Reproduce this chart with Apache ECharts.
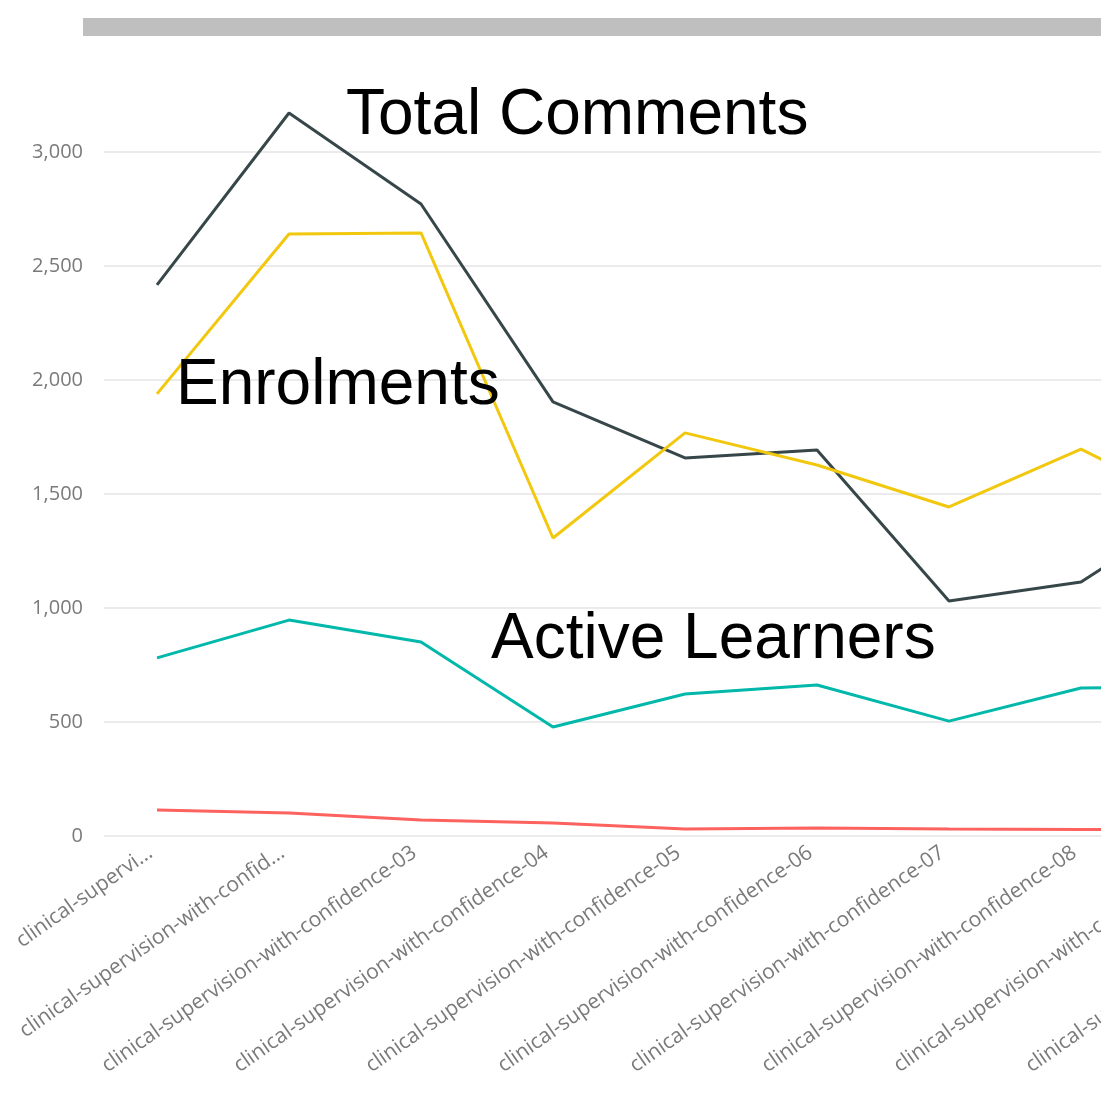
<!DOCTYPE html>
<html>
<head>
<meta charset="utf-8">
<script src="https://cdn.jsdelivr.net/npm/echarts@6/dist/echarts.min.js"></script>
<style>
  html, body { margin: 0; padding: 0; background: #fff; overflow: hidden; }
  #main { width: 1450px; height: 1093px; }
</style>
</head>
<body>
<div id="main"></div>
<script>
// categories as they show on the axis (power bi cut the first two)
var courseNames = [
  'clinical-supervi...',
  'clinical-supervision-with-confid...',
  'clinical-supervision-with-confidence-03',
  'clinical-supervision-with-confidence-04',
  'clinical-supervision-with-confidence-05',
  'clinical-supervision-with-confidence-06',
  'clinical-supervision-with-confidence-07',
  'clinical-supervision-with-confidence-08',
  'clinical-supervision-with-confidence-09',
  'clinical-supervision-with-confidence-10'
];
// values, last run is off screen
var totalComments = [2417, 3171, 2772, 1904, 1658, 1693, 1031, 1114, 1487, null];
var enrolments = [1939, 2640, 2645, 1307, 1768, 1627, 1443, 1697, 1408, null];
var activeLearners = [781, 947, 851, 478, 623, 662, 504, 649, 655, null];
var fourthSeries = [114, 101, 70, 57, 31, 35, 31, 29, 29, null];

var yMin = 0;
var yMax = 3000;
var yStep = 500;

var labelColor = '#7a7a7a';
var noteFont = '64px "Liberation Sans", Arial';

var myChart = echarts.init(document.getElementById('main'));
var option;

function lineSeries(name, data, color) {
  return {
    name: name,
    type: 'line',
    xAxisIndex: 1,
    yAxisIndex: 1,
    data: data,
    symbol: 'none',
    clip: false,
    lineStyle: { width: 3, color: color },
    itemStyle: { color: color }
  };
}

option = {
  animation: false,
  backgroundColor: '#ffffff',
  // grid 0 only carries the value gridlines, grid 1 the lines
  grid: [
    { left: 104, right: 0, top: 152, bottom: 257 },
    { left: 91, right: 39, top: 152, bottom: 257 }
  ],
  xAxis: [
    { type: 'category', gridIndex: 0, show: false, data: courseNames },
    {
      type: 'category',
      gridIndex: 1,
      data: courseNames,
      boundaryGap: true,
      axisLine: { show: false },
      axisTick: { show: false },
      axisLabel: {
        interval: 0,
        rotate: 35,
        margin: 10,
        padding: [0, 8, 0, 0],
        color: labelColor,
        fontFamily: 'Open Sans',
        fontSize: 21
      }
    }
  ],
  yAxis: [
    {
      type: 'value',
      gridIndex: 0,
      min: yMin,
      max: yMax,
      interval: yStep,
      axisLine: { show: false },
      axisTick: { show: false },
      splitLine: { lineStyle: { color: '#ebebeb', width: 2 } },
      axisLabel: {
        margin: 21,
        color: labelColor,
        fontFamily: 'Open Sans',
        fontSize: 20,
        formatter: function (v) {
          return v.toLocaleString('en-US');
        }
      }
    },
    {
      type: 'value',
      gridIndex: 1,
      min: yMin,
      max: yMax,
      interval: yStep,
      show: false,
      splitLine: { show: false }
    }
  ],
  graphic: [
    {
      type: 'rect',
      shape: { x: 83, y: 18, width: 1400, height: 18 },
      style: { fill: '#bfbfbf' }
    },
    {
      type: 'text',
      x: 346, y: 116, z: 100,
      style: { text: 'Total Comments', font: noteFont, fill: '#000', verticalAlign: 'middle' }
    },
    {
      type: 'text',
      x: 176, y: 386, z: 100,
      style: { text: 'Enrolments', font: noteFont, fill: '#000', verticalAlign: 'middle' }
    },
    {
      type: 'text',
      x: 491, y: 640, z: 100,
      style: { text: 'Active Learners', font: noteFont, fill: '#000', verticalAlign: 'middle' }
    }
  ],
  series: [
    lineSeries('Other', fourthSeries, '#fd625e'),
    lineSeries('Active Learners', activeLearners, '#01b8aa'),
    lineSeries('Total Comments', totalComments, '#374649'),
    lineSeries('Enrolments', enrolments, '#f2c80f')
  ]
};

option && myChart.setOption(option);
</script>
</body>
</html>
